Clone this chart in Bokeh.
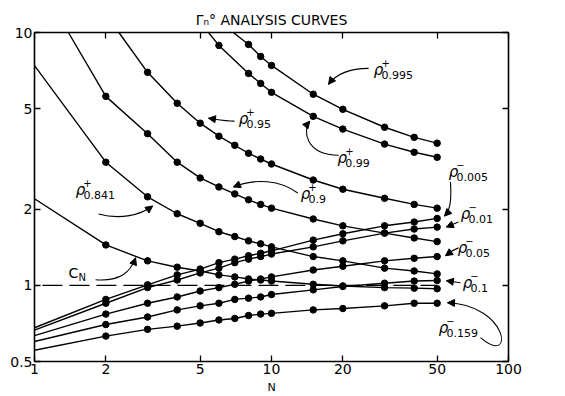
from bokeh.plotting import figure
from bokeh.models import Range1d, FixedTicker, LogAxis, Arrow, NormalHead
from bokeh.core.properties import value
from bokeh.embed import file_html
from bokeh.resources import INLINE

FONT = "DejaVu Sans"

# ---------------- data ----------------
N_pts = [2, 3, 4, 5, 6, 7, 8, 9, 10, 15, 20, 30, 40, 50]

rho_m005 = [0.88, 1.005, 1.10, 1.16, 1.23, 1.27, 1.31, 1.34, 1.37, 1.51, 1.60, 1.72, 1.78, 1.84]
rho_m01 = [0.85, 0.98, 1.05, 1.12, 1.17, 1.23, 1.27, 1.30, 1.33, 1.42, 1.50, 1.61, 1.67, 1.70]
rho_m05 = [0.77, 0.85, 0.90, 0.95, 0.98, 1.01, 1.04, 1.06, 1.08, 1.15, 1.19, 1.25, 1.28, 1.30]
rho_m1 = [0.70, 0.75, 0.80, 0.83, 0.85, 0.88, 0.89, 0.90, 0.92, 0.96, 0.99, 1.02, 1.04, 1.045]
rho_m159 = [0.63, 0.67, 0.69, 0.71, 0.73, 0.74, 0.76, 0.77, 0.775, 0.80, 0.81, 0.83, 0.85, 0.85]
c_n = [1.445, 1.25, 1.18, 1.14, 1.10, 1.08, 1.06, 1.05, 1.04, 1.01, 0.995, 0.98, 0.975, 0.97]
rho_p841 = [3.07, 2.24, 1.92, 1.76, 1.63, 1.56, 1.50, 1.46, 1.42, 1.30, 1.25, 1.17, 1.14, 1.11]
rho_p9 = [5.59, 3.98, 3.07, 2.66, 2.45, 2.30, 2.18, 2.09, 2.02, 1.83, 1.72, 1.61, 1.54, 1.49]

N_p95 = [3, 4, 5, 6, 7, 8, 9, 10, 15, 20, 30, 40, 50]
rho_p95 = [6.96, 5.25, 4.38, 3.89, 3.58, 3.33, 3.16, 3.02, 2.61, 2.40, 2.21, 2.09, 2.02]
N_p99 = [6, 8, 9, 10, 15, 20, 30, 40, 50]
rho_p99 = [8.89, 6.89, 6.29, 5.80, 4.66, 4.15, 3.62, 3.36, 3.21]
N_p995 = [8, 9, 10, 15, 20, 30, 40, 50]
rho_p995 = [8.97, 8.04, 7.41, 5.70, 4.97, 4.22, 3.85, 3.65]

# where each curve starts (line only, no dot)
start_N = {"m005": 1, "m01": 1, "m05": 1, "m1": 1, "m159": 1, "cn": 1,
           "p841": 1, "p9": 1.39, "p95": 2.27, "p99": 5.42, "p995": 6.9}
start_v = {"m005": 0.68, "m01": 0.665, "m05": 0.633, "m1": 0.60, "m159": 0.554,
           "cn": 2.2, "p841": 7.4, "p9": 10, "p95": 10, "p99": 10, "p995": 10}

ref_N = [1.08, 50]
ref_v = [1, 1]

x_ticks = [1, 2, 5, 10, 20, 50, 100]
y_ticks = [0.5, 1, 2, 5, 10]

# rho annotation labels
ann_N = [28.3, 7.62, 19.9, 58.6, 65.9, 63.9, 67.1, 53.2, 1.564, 13.9]
ann_v = [7.08, 4.54, 3.19, 2.805, 1.915, 1.407, 1.024, 0.681, 2.38, 2.30]
ann_main = ["ρ"] * 10
ann_sup = ["+", "+", "+", "−", "−", "−", "−", "−", "+", "+"]
ann_sub = ["0.995", "0.95", "0.99", "0.005", "0.01", "0.05", "0.1", "0.159", "0.841", "0.9"]
# C_N label
cn_N = [1.46]
cn_v = [1.121]

# annotation arrows (cubic curves)
arr_x0 = [25.7, 6.98, 19.2, 56.9, 61.5, 61.5, 62.7, 76.2, 1.862, 12.9, 1.81]
arr_y0 = [7.21, 4.46, 3.27, 2.56, 1.78, 1.407, 1.024, 0.621, 1.915, 2.32, 1.052]
arr_cx0 = [21.1, 6.40, 13.9, 57.5, 58.0, 58.0, 58.6, 107.0, 2.31, 10.9, 2.31]
arr_cy0 = [7.21, 4.46, 3.27, 2.18, 1.74, 1.38, 1.033, 0.473, 1.815, 2.61, 1.033]
arr_cx1 = [18.6, 5.80, 13.5, 56.9, 58.0, 56.4, 58.6, 100.0, 2.80, 8.56, 2.54]
arr_cy1 = [6.77, 4.54, 4.11, 1.99, 1.74, 1.345, 1.033, 0.8386, 1.898, 2.66, 1.131]
arr_x1 = [17.4, 5.42, 14.5, 53.7, 54.7, 54.2, 54.7, 55.3, 3.15, 6.91, 2.67]
arr_y1 = [6.24, 4.58, 4.46, 1.88, 1.70, 1.31, 1.043, 0.854, 2.06, 2.45, 1.285]

# ---------------- figure ----------------
p = figure(width=565, height=396, x_axis_type="log", y_axis_type="log",
           x_range=Range1d(1, 100), y_range=Range1d(0.5, 10),
           output_backend="svg", toolbar_location=None,
           min_border_left=34, min_border_right=57, min_border_top=32, min_border_bottom=34)
p.grid.visible = False
p.outline_line_color = "black"
p.outline_line_width = 1.6
p.background_fill_color = "white"
p.border_fill_color = "white"

p.title.text = "Γₙ° ANALYSIS CURVES"
p.title.align = "center"
p.title.text_font = FONT
p.title.text_font_size = "14px"
p.title.text_font_style = "normal"
p.title.text_color = "black"
p.title.standoff = 10
p.title.offset = 8


def style_axis(ax, ticks, labels=True):
    ax.ticker = FixedTicker(ticks=ticks, minor_ticks=[])
    ax.major_tick_in = 6
    ax.major_tick_out = 0
    ax.minor_tick_in = 0
    ax.minor_tick_out = 0
    ax.axis_line_color = None
    ax.major_tick_line_color = "black"
    ax.major_tick_line_width = 1.3
    if labels:
        ax.major_label_overrides = {t: ("%g" % t) for t in ticks}
        ax.major_label_text_font = FONT
        ax.major_label_text_font_size = "14px"
        ax.major_label_text_color = "black"
        ax.major_label_standoff = 2
    else:
        ax.major_label_text_font_size = "1px"
        ax.major_label_text_color = None
        ax.major_label_standoff = 0


style_axis(p.xaxis[0], x_ticks)
style_axis(p.yaxis[0], y_ticks)
p.xaxis[0].axis_label = "N"
p.xaxis[0].axis_label_text_font = FONT
p.xaxis[0].axis_label_text_font_size = "11px"
p.xaxis[0].axis_label_text_font_style = "normal"
p.xaxis[0].axis_label_text_color = "black"
p.xaxis[0].axis_label_standoff = 4

top_ax = LogAxis()
style_axis(top_ax, x_ticks, labels=False)
p.add_layout(top_ax, "above")
right_ax = LogAxis()
style_axis(right_ax, y_ticks, labels=False)
p.add_layout(right_ax, "right")

# dashed reference line at 1
p.line(ref_N, ref_v, line_color="black", line_width=1.1, line_dash="20 7")

curves = [
    ("m005", N_pts, rho_m005), ("m01", N_pts, rho_m01), ("m05", N_pts, rho_m05),
    ("m1", N_pts, rho_m1), ("m159", N_pts, rho_m159), ("cn", N_pts, c_n),
    ("p841", N_pts, rho_p841), ("p9", N_pts, rho_p9), ("p95", N_p95, rho_p95),
    ("p99", N_p99, rho_p99), ("p995", N_p995, rho_p995),
]
for key, xs, ys in curves:
    p.line([start_N[key]] + list(xs), [start_v[key]] + list(ys),
           line_color="black", line_width=1.4)
    p.scatter(xs, ys, size=6.5, fill_color="black", line_color="black")

# labels
p.text(ann_N, ann_v, text=ann_main, text_font=value(FONT), text_font_style="italic",
       text_font_size="15px", text_align="center", text_baseline="middle", text_color="black")
p.text(ann_N, ann_v, text=ann_sup, text_font=value(FONT), text_font_size="10px",
       text_align="center", text_baseline="middle", x_offset=7, y_offset=-7, text_color="black")
p.text(ann_N, ann_v, text=ann_sub, text_font=value(FONT), text_font_size="11px",
       text_align="left", text_baseline="middle", x_offset=3, y_offset=5, text_color="black")
p.text(cn_N, cn_v, text=["C"], text_font=value(FONT), text_font_size="14px",
       text_align="center", text_baseline="middle", text_color="black")
p.text(cn_N, cn_v, text=["N"], text_font=value(FONT), text_font_size="10px",
       text_align="left", text_baseline="middle", x_offset=5, y_offset=5, text_color="black")

# arrows
p.bezier(x0=arr_x0, y0=arr_y0, x1=arr_x1, y1=arr_y1, cx0=arr_cx0, cy0=arr_cy0,
         cx1=arr_cx1, cy1=arr_cy1, line_color="black", line_width=1.1)
for i in range(len(arr_x1)):
    p.add_layout(Arrow(end=NormalHead(size=7, fill_color="black", line_color="black"),
                       x_start=arr_cx1[i], y_start=arr_cy1[i],
                       x_end=arr_x1[i], y_end=arr_y1[i], line_color=None))

open("out.html", "w").write(file_html(p, INLINE))
